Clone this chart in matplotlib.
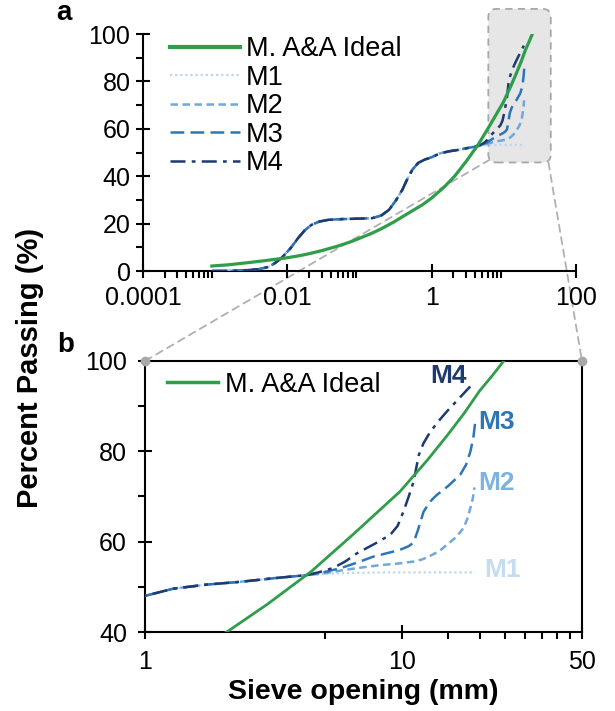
import matplotlib
matplotlib.use('Agg')
import matplotlib.pyplot as plt
from matplotlib.lines import Line2D
from matplotlib.patches import FancyBboxPatch, ConnectionPatch
from matplotlib.transforms import IdentityTransform
from matplotlib.ticker import FixedLocator, FixedFormatter, NullFormatter

plt.rcParams['font.family'] = ['Liberation Sans', 'DejaVu Sans']

# ---------------- data ----------------
ideal_size = [0.0009, 0.0015, 0.002, 0.003, 0.005, 0.0075, 0.01, 0.015, 0.02,
              0.03, 0.05, 0.075, 0.1, 0.15, 0.2, 0.3, 0.5, 0.75, 1.0, 1.5,
              2.08, 3.0, 4.45, 6.5, 9.8, 12.5, 15.0, 17.5, 20.0, 22.5, 24.8]
ideal_pass = [2.1, 2.6, 3.0, 3.6, 4.4, 5.1, 5.6, 6.5, 7.3,
              8.6, 10.5, 12.3, 13.8, 16.0, 17.8, 20.7, 24.8, 28.0, 30.8, 35.5,
              40.0, 46.2, 53.5, 61.8, 71.1, 78.0, 83.6, 88.6, 93.4, 96.9, 100.0]

common_size = [0.00091, 0.0015, 0.002, 0.003, 0.004, 0.0053, 0.0065, 0.00824,
               0.011, 0.0141, 0.0175, 0.0217, 0.028, 0.0372, 0.0569, 0.1, 0.15,
               0.2, 0.256, 0.32, 0.393, 0.46, 0.542, 0.65, 0.8, 1.0, 1.29, 1.74,
               2.34, 3.16, 4.26]
common_pass = [0.0, 0.05, 0.2, 0.4, 0.8, 1.6, 3.0, 5.4,
               9.5, 13.9, 17.2, 19.5, 20.9, 21.6, 21.9, 22.1, 22.3,
               23.4, 25.8, 29.8, 34.3, 38.8, 42.8, 45.6, 47.0, 48.0, 49.6, 50.5,
               51.1, 51.9, 52.6]

m1_size = [5.0, 6.5, 9.0, 13.0, 19.2]
m1_pass = [52.9, 53.1, 53.2, 53.2, 53.2]
m2_size = [5.0, 5.74, 7.0, 8.2, 9.8, 11.07, 12.0, 13.0, 14.0, 14.9, 16.2,
           17.3, 17.9, 18.4, 18.8, 19.1]
m2_pass = [53.0, 53.6, 54.3, 54.8, 55.2, 55.6, 56.1, 57.0, 58.0, 59.3, 61.0,
           63.0, 65.0, 67.4, 69.5, 72.0]
m3_size = [5.0, 5.74, 6.7, 7.73, 8.8, 9.8, 10.6, 11.07, 11.5, 12.1, 12.8,
           13.6, 15.0, 16.8, 17.7, 18.4, 18.9, 19.2]
m3_pass = [53.3, 54.1, 55.4, 56.7, 57.5, 58.2, 59.0, 59.8, 62.5, 66.6, 68.8,
           70.3, 72.2, 74.8, 77.0, 79.9, 83.0, 86.2]
m4_size = [4.8, 5.4, 6.0, 6.66, 7.8, 8.98, 9.6, 10.1, 10.6, 11.07, 11.6,
           12.1, 12.85, 13.8, 14.9, 16.5, 18.9]
m4_pass = [53.3, 54.2, 55.6, 57.4, 59.5, 61.5, 63.5, 66.6, 70.0, 73.3, 79.2,
           81.8, 84.3, 86.6, 88.8, 91.5, 95.1]

mix_names = ['M1', 'M2', 'M3', 'M4']
ideal_name = 'M. A&A Ideal'

# ---------------- styles ----------------
green = '#2e9e4a'
mix_colors = ['#bcd6ee', '#6fa8dc', '#2e75b6', '#1f3a6e']
mix_label_colors = ['#c6dcf1', '#7db3e0', '#2e75b6', '#1f3a6e']
mix_dashes = [(1, 1.3), (3, 1.8), (5.5, 2.5), (6, 2.5, 1.5, 2.5)]
mix_lw = [1.6, 1.8, 1.8, 1.8]

tails = [(m1_size, m1_pass), (m2_size, m2_pass), (m3_size, m3_pass), (m4_size, m4_pass)]
mixes = [(common_size + s, common_pass + p) for s, p in tails]

fig = plt.figure(figsize=(6.15, 7.11), dpi=100)
W, H = 615.0, 711.0
ax1 = fig.add_axes([143 / W, 1 - 271 / H, 433 / W, 237 / H])
ax2 = fig.add_axes([145 / W, 1 - 632 / H, 437 / W, 271 / H])

# ---------------- panel a ----------------
for (xs, ys), c, d, lw in zip(mixes, mix_colors, mix_dashes, mix_lw):
    ax1.plot(xs, ys, color=c, lw=lw, dashes=d, zorder=3)
ax1.plot(ideal_size, ideal_pass, color=green, lw=2.3, zorder=4)
ax1.set_xscale('log')
ax1.set_xlim(1e-4, 100)
ax1.set_ylim(0, 100)
for s in ['top', 'right']:
    ax1.spines[s].set_visible(False)
for s in ['left', 'bottom']:
    ax1.spines[s].set_linewidth(1.5)
ax1.xaxis.set_major_locator(FixedLocator([1e-4, 1e-2, 1, 100]))
ax1.xaxis.set_major_formatter(FixedFormatter(['0.0001', '0.01', '1', '100']))
minor_a = [k * 10.0 ** n for n in (-4, -2, 0) for k in range(2, 10)]
ax1.xaxis.set_minor_locator(FixedLocator(minor_a))
ax1.xaxis.set_minor_formatter(NullFormatter())
ax1.yaxis.set_major_locator(FixedLocator([0, 20, 40, 60, 80, 100]))
ax1.yaxis.set_minor_locator(FixedLocator([10, 30, 50, 70, 90]))
ax1.tick_params(which='major', direction='inout', length=10, width=1.5, labelsize=18)
ax1.tick_params(which='minor', direction='out', length=5, width=1.5)
ax1.tick_params(axis='x', which='major', pad=6)
ax1.tick_params(axis='y', which='major', pad=4)

handles = [Line2D([], [], color=green, lw=3)]
for c, d, lw in zip(mix_colors, mix_dashes, mix_lw):
    handles.append(Line2D([], [], color=c, lw=lw, dashes=d))
ax1.legend(handles, [ideal_name] + mix_names, loc='upper left',
           bbox_to_anchor=(0.062, 0.99), frameon=False, fontsize=19.5,
           handlelength=2.6, handletextpad=0.2, labelspacing=0.09,
           borderaxespad=0, borderpad=0)

# ---------------- panel b ----------------
for (xs, ys), c, d, lw in zip(mixes, mix_colors, mix_dashes, mix_lw):
    ax2.plot(xs, ys, color=c, lw=lw, dashes=d, zorder=3)
ax2.plot(ideal_size, ideal_pass, color=green, lw=2.0, zorder=4)
ax2.set_xscale('log')
ax2.set_xlim(1, 50)
ax2.set_ylim(40, 100)
for s in ax2.spines.values():
    s.set_linewidth(1.5)
ax2.xaxis.set_major_locator(FixedLocator([1, 10, 50]))
ax2.xaxis.set_major_formatter(FixedFormatter(['1', '10', '50']))
ax2.xaxis.set_minor_locator(FixedLocator([5, 15, 20, 25, 30, 35, 40, 45]))
ax2.xaxis.set_minor_formatter(NullFormatter())
ax2.yaxis.set_major_locator(FixedLocator([40, 60, 80, 100]))
ax2.yaxis.set_minor_locator(FixedLocator([50, 70, 90]))
ax2.tick_params(which='major', direction='inout', length=10, width=1.5, labelsize=18)
ax2.tick_params(which='minor', direction='out', length=5, width=1.5)
ax2.tick_params(axis='x', which='major', pad=8)
ax2.tick_params(axis='y', which='major', pad=8)

ax2.legend([Line2D([], [], color=green, lw=2.5)], [ideal_name], loc='upper left',
           bbox_to_anchor=(0.05, 0.96), frameon=False, fontsize=19.5,
           handlelength=1.9, handletextpad=0.25, borderaxespad=0, borderpad=0)

label_pos = [(20.8, 53.7), (19.8, 73.0), (19.8, 86.5), (15.1, 96.7)]
for name, (x, y), c in zip(mix_names, label_pos, mix_label_colors):
    ax2.text(x, y, name, color=c, fontsize=19, fontweight='bold',
             ha='left' if name != 'M4' else 'center', va='center', zorder=5)

# ---------------- zoom box and connectors ----------------
fig.canvas.draw()
x0, y0 = ax1.transData.transform((6.1, 45.8))
x1, y1 = ax1.transData.transform((44.7, 110.6))
box = FancyBboxPatch((x0, y0), x1 - x0, y1 - y0,
                     boxstyle='round,pad=0,rounding_size=8',
                     transform=IdentityTransform(), facecolor='#e6e6e6',
                     edgecolor='#a8a8a8', lw=1.3, linestyle=(0, (4, 3)),
                     zorder=1, clip_on=False)
ax1.add_patch(box)
for xa, ya, xb in [(6.4, 47.0, 1), (41.5, 45.8, 50)]:
    con = ConnectionPatch(xyA=(xa, ya), coordsA=ax1.transData,
                          xyB=(xb, 100), coordsB=ax2.transData,
                          color='#b0b0b0', lw=1.3, linestyle=(0, (4, 3)),
                          zorder=0.8, clip_on=False)
    ax1.add_artist(con)
ax2.plot([1, 50], [100, 100], 'o', color='#a8a8a8', ms=6, clip_on=False, zorder=6)

# ---------------- labels ----------------
fig.text(30 / W, 1 - 368 / H, 'Percent Passing (%)', rotation=90, fontsize=21,
         fontweight='bold', ha='center', va='center')
fig.text(363.5 / W, 1 - 692 / H, 'Sieve opening (mm)', fontsize=20.5,
         fontweight='bold', ha='center', va='center')
fig.text(64 / W, 1 - 13 / H, 'a', fontsize=20, fontweight='bold', ha='center', va='center')
fig.text(66 / W, 1 - 345 / H, 'b', fontsize=20, fontweight='bold', ha='center', va='center')

fig.savefig('out.png', dpi=100)
